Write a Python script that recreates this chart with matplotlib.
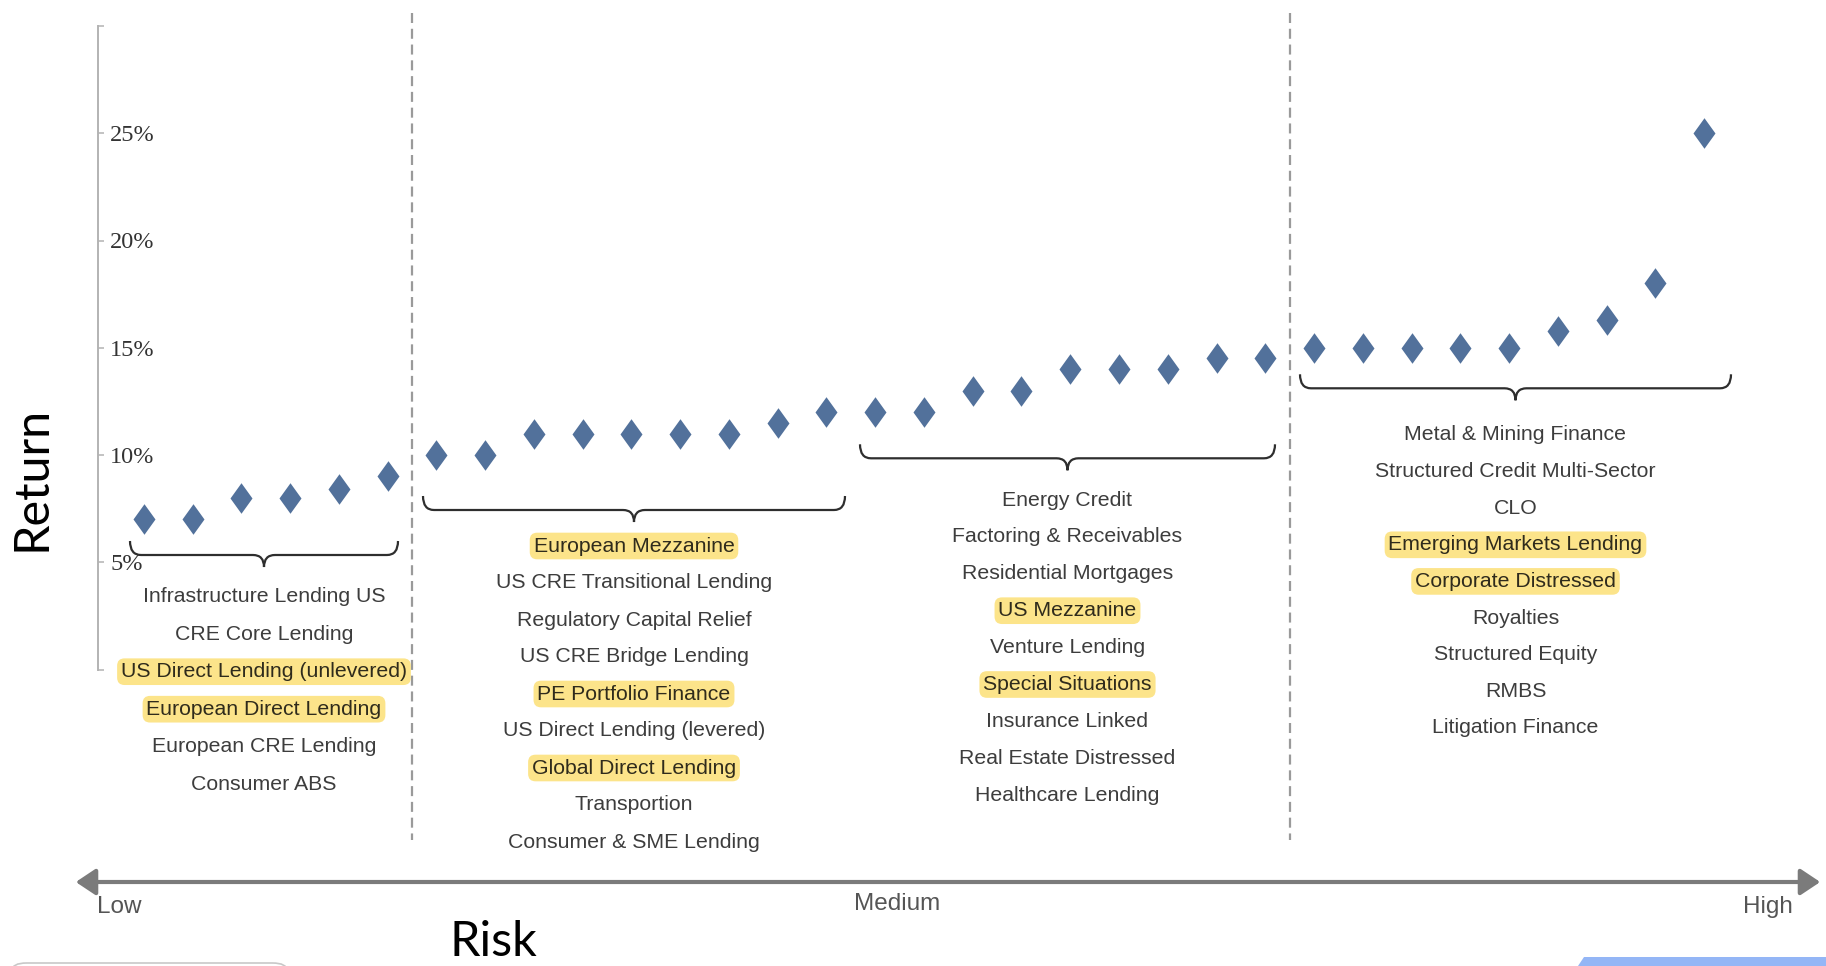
import numpy as np
import matplotlib
matplotlib.use("Agg")
import matplotlib.pyplot as plt
from matplotlib.path import Path
from matplotlib.patches import PathPatch, FancyArrowPatch, FancyBboxPatch, Polygon
from matplotlib import font_manager

# ---------------- data ----------------
returns_low = [7, 7, 8, 8, 8.4, 9]
returns_med1 = [10, 10, 11, 11, 11, 11, 11, 11.5, 12]
returns_med2 = [12, 12, 13, 13, 14, 14, 14, 14.5, 14.5]
returns_high = [15, 15, 15, 15, 15, 15.8, 16.3, 18, 25]

group1_labels = ["Infrastructure Lending US", "CRE Core Lending",
                 "US Direct Lending (unlevered)", "European Direct Lending",
                 "European CRE Lending", "Consumer ABS"]
group2_labels = ["European Mezzanine", "US CRE Transitional Lending",
                 "Regulatory Capital Relief", "US CRE Bridge Lending",
                 "PE Portfolio Finance", "US Direct Lending (levered)",
                 "Global Direct Lending", "Transportion", "Consumer & SME Lending"]
group3_labels = ["Energy Credit", "Factoring & Receivables", "Residential Mortgages",
                 "US Mezzanine", "Venture Lending", "Special Situations",
                 "Insurance Linked", "Real Estate Distressed", "Healthcare Lending"]
group4_labels = ["Metal & Mining Finance", "Structured Credit Multi-Sector", "CLO",
                 "Emerging Markets Lending", "Corporate Distressed", "Royalties",
                 "Structured Equity", "RMBS", "Litigation Finance"]
highlighted = ["US Direct Lending (unlevered)", "European Direct Lending",
               "European Mezzanine", "PE Portfolio Finance", "Global Direct Lending",
               "US Mezzanine", "Special Situations", "Emerging Markets Lending",
               "Corporate Distressed"]

ytick_values = [0, 5, 10, 15, 20, 25, 30]
ytick_labels = ["", "5%", "10%", "15%", "20%", "25%", ""]
risk_labels = ["Low", "Medium", "High"]

# ---------------- fonts ----------------
names = {f.name for f in font_manager.fontManager.ttflist}
if "Liberation Sans Narrow" in names:
    CAT_FONT = ["Liberation Sans Narrow", "DejaVu Sans"]
    cat_size = 18.6
    risk_size = 21
else:
    CAT_FONT = ["Liberation Sans", "DejaVu Sans"]
    cat_size = 15.3
    risk_size = 17.5
SERIF = ["Liberation Serif", "DejaVu Serif"]
BIG = ["Lato", "Open Sans", "DejaVu Sans"]

# ---------------- figure ----------------
W, H = 1826, 966
fig = plt.figure(figsize=(W / 100, H / 100), dpi=100)
ax = fig.add_axes([0, 0, 1, 1])

# pixel -> data mapping (layout)
x0_px, dx_px = 143.8, 48.76
y0_px, dy_px = 669.5, 21.45
ax.set_xlim((0 - x0_px) / dx_px, (W - x0_px) / dx_px)
ax.set_ylim((y0_px - H) / dy_px, y0_px / dy_px)
px_x = lambda p: (p - x0_px) / dx_px
px_y = lambda p: (y0_px - p) / dy_px

all_returns = returns_low + returns_med1 + returns_med2 + returns_high
xs = np.arange(len(all_returns))

diamond = Path([(0, 1), (0.72, 0), (0, -1), (-0.72, 0), (0, 1)],
               [Path.MOVETO, Path.LINETO, Path.LINETO, Path.LINETO, Path.CLOSEPOLY])
ax.plot(xs, all_returns, linestyle="none", marker=diamond, markersize=22,
        color="#52719b", markeredgewidth=0, zorder=5)

# axes styling
for s in ["top", "right", "bottom"]:
    ax.spines[s].set_visible(False)
ax.spines["left"].set_position(("data", px_x(97.5)))
ax.spines["left"].set_bounds(0, 30)
ax.spines["left"].set_color("#b3b3b3")
ax.spines["left"].set_linewidth(1.4)
ax.set_xticks([])
ax.set_yticks(ytick_values)
ax.set_yticklabels(ytick_labels, fontfamily=SERIF, fontsize=17.5, color="#333333")
ax.tick_params(axis="y", direction="in", length=4.5, width=1.1, color="#b3b3b3", pad=-9)
for lbl in ax.get_yticklabels():
    lbl.set_horizontalalignment("left")

# dashed separators
for sep in [5.5, 23.5]:
    ax.plot([sep, sep], [px_y(13), px_y(840)], color="#9a9a9a", lw=1.6,
            dashes=[4.5, 2.6], zorder=2)

# braces
def brace(xa, xb, y, curl_px=14, tip_px=12, r_px=11):
    c = curl_px / dy_px
    t = tip_px / dy_px
    r = r_px / dx_px
    xm = (xa + xb) / 2
    verts = [(xa, y + c), (xa, y), (xa + r, y),
             (xm - r, y), (xm, y), (xm, y - t),
             (xm, y), (xm + r, y),
             (xb - r, y), (xb, y), (xb, y + c)]
    codes = [Path.MOVETO, Path.CURVE3, Path.CURVE3,
             Path.LINETO, Path.CURVE3, Path.CURVE3,
             Path.CURVE3, Path.CURVE3,
             Path.LINETO, Path.CURVE3, Path.CURVE3]
    ax.add_patch(PathPatch(Path(verts, codes), fill=False, ec="#2e2e2e", lw=1.6, zorder=3))
    return xm

groups = [
    (group1_labels, px_x(130), px_x(398), px_y(555), px_y(596.7), 37.5),
    (group2_labels, px_x(423), px_x(845), px_y(510), px_y(546), 37.0),
    (group3_labels, px_x(860), px_x(1275), px_y(458.3), px_y(500), 36.9),
    (group4_labels, px_x(1300), px_x(1731), px_y(388.3), px_y(435), 36.6),
]
for labels, xa, xb, yb, ytxt, step in groups:
    xm = brace(xa, xb, yb)
    for k, name in enumerate(labels):
        y = ytxt - k * step / dy_px
        if name in highlighted:
            ax.text(xm, y, name, ha="center", va="center", fontfamily=CAT_FONT,
                    fontsize=cat_size, color="#2f2b1c", zorder=4,
                    bbox=dict(boxstyle="round,pad=0.18,rounding_size=0.35",
                              fc="#fce48a", ec="none"))
        else:
            ax.text(xm, y, name, ha="center", va="center", fontfamily=CAT_FONT,
                    fontsize=cat_size, color="#3d3d3d", zorder=4)

# risk arrow
arrow = FancyArrowPatch((px_x(73), px_y(882)), (px_x(1823), px_y(882)),
                        arrowstyle="<|-|>,head_length=0.75,head_width=0.5",
                        mutation_scale=16, color="#7b7b7b", lw=3.0, zorder=3)
ax.add_patch(arrow)
ax.text(px_x(97), px_y(907), risk_labels[0], ha="left", va="center",
        fontfamily=CAT_FONT, fontsize=risk_size, color="#555555")
ax.text(px_x(897), px_y(904), risk_labels[1], ha="center", va="center",
        fontfamily=CAT_FONT, fontsize=risk_size, color="#555555")
ax.text(px_x(1793), px_y(907), risk_labels[2], ha="right", va="center",
        fontfamily=CAT_FONT, fontsize=risk_size, color="#555555")

# axis titles
fig.text(31 / W, 1 - 478 / H, "Return", rotation=90, ha="center", va="center",
         fontfamily=BIG, fontsize=35, color="#000000")
fig.text(493 / W, 1 - 956 / H, "Risk", ha="center", va="baseline",
         fontfamily=BIG, fontsize=35, color="#000000")

# screenshot artefacts at the bottom edge
fig.patches.append(FancyBboxPatch((12 / W, 1 - 985 / H), 275 / W, 22 / H,
                                  boxstyle="round,pad=0,rounding_size=0.008",
                                  transform=fig.transFigure, fc="white",
                                  ec="#c8c8c8", lw=1.2, figure=fig))
fig.patches.append(Polygon([(1578 / W, 0), (1584 / W, 1 - 957 / H), (1, 1 - 957 / H), (1, 0)],
                           closed=True, transform=fig.transFigure, fc="#94b6f6",
                           ec="none", figure=fig))

fig.savefig("out.png", dpi=100)
